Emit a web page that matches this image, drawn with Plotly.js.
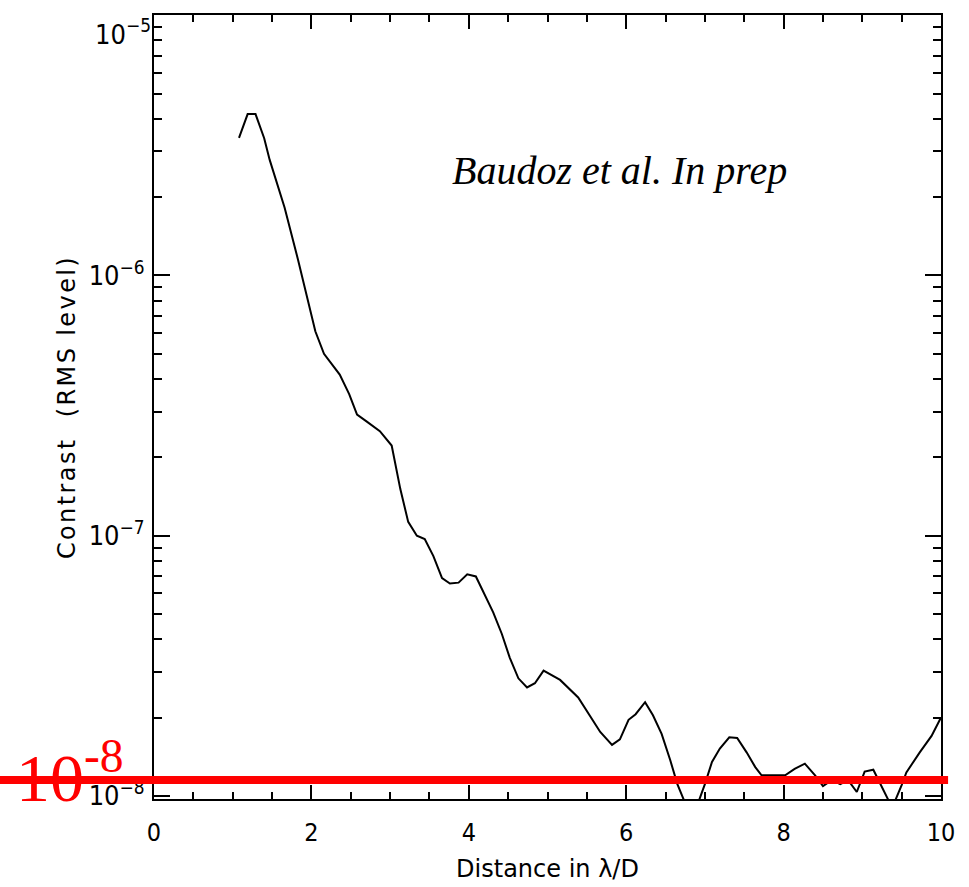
<!DOCTYPE html>
<html>
<head>
<meta charset="utf-8">
<script src="https://cdn.plot.ly/plotly-3.0.1.min.js"></script>
<style>
html,body{margin:0;padding:0;background:#fff;}
#chart{width:969px;height:887px;}
#chart .ytitle{letter-spacing:2.4px;}
</style>
</head>
<body>
<div id="chart"></div>
<script>
// Distance in lambda/D
const distance = [1.08, 1.19, 1.29, 1.40, 1.47, 1.66, 1.83, 2.05, 2.16, 2.36, 2.48, 2.58, 2.70, 2.87, 3.02, 3.13, 3.23, 3.34, 3.44, 3.55, 3.66, 3.76, 3.87, 3.98, 4.09, 4.18, 4.31, 4.42, 4.52, 4.63, 4.74, 4.84, 4.95, 5.16, 5.39, 5.67, 5.82, 5.92, 6.03, 6.12, 6.24, 6.34, 6.45, 6.56, 6.65, 6.80, 6.88, 7.00, 7.09, 7.19, 7.31, 7.41, 7.53, 7.64, 7.72, 8.02, 8.14, 8.27, 8.40, 8.50, 8.61, 8.72, 8.82, 8.93, 9.03, 9.14, 9.24, 9.38, 9.50, 9.56, 9.73, 9.88, 10.0];
// Contrast (RMS level)
const contrast = [3.38e-6, 4.17e-6, 4.17e-6, 3.37e-6, 2.78e-6, 1.82e-6, 1.15e-6, 6.1e-7, 5.0e-7, 4.16e-7, 3.5e-7, 2.92e-7, 2.75e-7, 2.52e-7, 2.22e-7, 1.51e-7, 1.13e-7, 1.0e-7, 9.7e-8, 8.35e-8, 6.87e-8, 6.55e-8, 6.6e-8, 7.1e-8, 6.97e-8, 6.1e-8, 5.07e-8, 4.19e-8, 3.4e-8, 2.83e-8, 2.61e-8, 2.71e-8, 3.03e-8, 2.79e-8, 2.39e-8, 1.76e-8, 1.57e-8, 1.65e-8, 1.96e-8, 2.06e-8, 2.29e-8, 2.04e-8, 1.73e-8, 1.37e-8, 1.11e-8, 8.6e-9, 8.8e-9, 1.11e-8, 1.35e-8, 1.52e-8, 1.68e-8, 1.67e-8, 1.47e-8, 1.29e-8, 1.2e-8, 1.2e-8, 1.27e-8, 1.33e-8, 1.2e-8, 1.09e-8, 1.15e-8, 1.11e-8, 1.15e-8, 1.035e-8, 1.24e-8, 1.26e-8, 1.1e-8, 9.0e-9, 1.1e-8, 1.23e-8, 1.47e-8, 1.7e-8, 2.0e-8];

const xTickVals = [0, 2, 4, 6, 8, 10];
const xTickText = ['0', '2', '4', '6', '8', '10'];
// decade ticks: the top label is pushed inward (below its tick) as in the original
const yTickVals = [1e-8, 1e-7, 1e-6, 1e-5];
const yTickText = ['10<sup>−8</sup>', '10<sup>−7</sup>', '10<sup>−6</sup>', ''];
const yTopTickVals = [1e-5];
const yTopTickText = ['10<sup>−5</sup>'];

const condFont = '"Liberation Sans Narrow", "DejaVu Sans Condensed", "Liberation Sans", sans-serif';
const titleFont = '"DejaVu Sans", "Liberation Sans", sans-serif';
const serifFont = '"Liberation Serif", "DejaVu Serif", serif';

const yRange = [-8.012, -4.999];
const tickFont = {family: condFont, size: 27, color: '#000'};

const trace = {
  x: distance, y: contrast, type: 'scatter', mode: 'lines',
  line: {color: '#000', width: 2}, hoverinfo: 'skip', showlegend: false
};
// empty carrier so the label-only overlay axis is drawn
const carrierTop = {x: [], y: [], type: 'scatter', mode: 'lines', yaxis: 'y2', showlegend: false, hoverinfo: 'skip'};

const layout = {
  width: 969, height: 887,
  margin: {l: 154, r: 28, t: 15, b: 88},
  paper_bgcolor: '#fff', plot_bgcolor: '#fff',
  showlegend: false,
  xaxis: {
    range: [0, 10], showgrid: false, zeroline: false,
    showline: true, linecolor: '#000', linewidth: 2, mirror: 'ticks',
    ticks: 'inside', ticklen: 14, tickwidth: 2, tickcolor: '#000',
    tickvals: xTickVals, ticktext: xTickText, ticklabelstandoff: 10,
    tickfont: {family: condFont, size: 25, color: '#000'},
    minor: {dtick: 0.5, ticks: 'inside', ticklen: 7, tickwidth: 2, tickcolor: '#000', showgrid: false},
    title: {text: 'Distance in λ/D', font: {family: titleFont, size: 24, color: '#000'}, standoff: 14}
  },
  yaxis: {
    type: 'log', range: yRange, showgrid: false, zeroline: false,
    showline: true, linecolor: '#000', linewidth: 2, mirror: 'ticks',
    ticks: 'inside', ticklen: 16, tickwidth: 2, tickcolor: '#000',
    tickvals: yTickVals, ticktext: yTickText, ticklabelstandoff: 2,
    ticklabeloverflow: 'allow', tickfont: tickFont,
    minor: {dtick: 'D1', ticks: 'inside', ticklen: 8, tickwidth: 2, tickcolor: '#000', showgrid: false},
    title: {text: 'Contrast  (RMS level)', font: {family: titleFont, size: 24, color: '#000'}, standoff: 6}
  },
  yaxis2: {
    type: 'log', range: yRange, autorange: false, overlaying: 'y', anchor: 'x', side: 'left',
    showgrid: false, zeroline: false, showline: false, ticks: '', showticklabels: true,
    tickmode: 'array', tickvals: yTopTickVals, ticktext: yTopTickText, ticklabelposition: 'outside bottom',
    ticklabelstandoff: 2, ticklabeloverflow: 'allow', tickfont: tickFont
  },
  shapes: [{
    type: 'line', xref: 'paper', yref: 'paper',
    x0: -0.196, x1: 1.009, y0: 0.0242, y1: 0.0242,
    line: {color: '#ff0000', width: 8}, layer: 'above'
  }],
  annotations: [
    {
      xref: 'paper', yref: 'paper', x: 0.376, y: 0.802, xanchor: 'left', yanchor: 'middle',
      text: '<i>Baudoz et al. In prep</i>', showarrow: false,
      font: {family: serifFont, size: 40, color: '#000'}
    },
    {
      xref: 'paper', yref: 'paper', x: -0.178, y: -0.024, xanchor: 'left', yanchor: 'bottom',
      text: '10<sup>-8</sup>', showarrow: false,
      font: {family: serifFont, size: 68, color: '#ff0000'}
    }
  ]
};

Plotly.newPlot('chart', [trace, carrierTop], layout, {staticPlot: true, displayModeBar: false});
</script>
</body>
</html>
